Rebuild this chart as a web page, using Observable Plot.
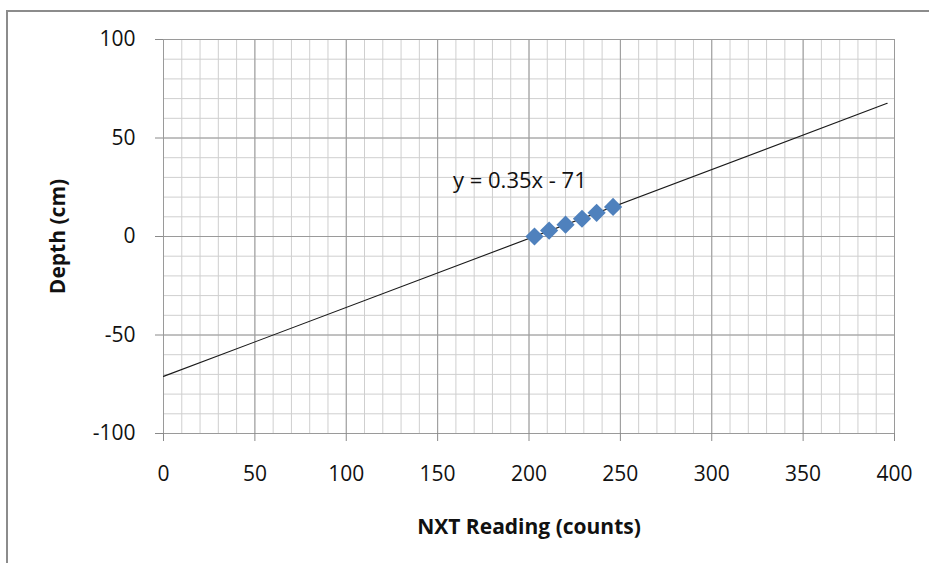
<!DOCTYPE html>
<html>
<head>
<meta charset="utf-8">
<script src="https://cdn.jsdelivr.net/npm/d3@7"></script>
<script src="https://cdn.jsdelivr.net/npm/@observablehq/plot@0.6"></script>
<style>
  html, body { margin: 0; padding: 0; background: #fff; }
  #wrap { position: relative; width: 929px; height: 563px; overflow: hidden; }
  #border { position: absolute; left: 6px; top: 10px; width: 1000px; height: 1000px;
            border-left: 2px solid #8c8c8c; border-top: 2px solid #8c8c8c; pointer-events: none; }
</style>
</head>
<body>
<div id="wrap"><div id="border"></div></div>
<script>
// Data
const readings = [203, 211, 220, 229, 237, 246];   // NXT Reading (counts)
const depths   = [0, 3, 6, 9, 12, 15];             // Depth (cm)
const trendX   = [0, 396];                         // trendline endpoints (x)
const trendY   = [-71, 67.6];                      // trendline endpoints (y)
const xTicks   = [0, 50, 100, 150, 200, 250, 300, 350, 400];
const yTicks   = [-100, -50, 0, 50, 100];
const xMinor   = d3.range(0, 401, 10);
const yMinor   = d3.range(-100, 101, 10);
const eqLabel  = ["y = 0.35x - 71"];
const eqX      = [195];
const eqY      = [28];

const points = readings.map((x, i) => ({x, y: depths[i]}));
const trend = trendX.map((x, i) => ({x, y: trendY[i]}));

const font = "'Open Sans', 'Noto Sans', sans-serif";
const fmt = d => String(d).replace("\u2212", "-");

const chart = Plot.plot({
  width: 929,
  height: 563,
  marginLeft: 163,
  marginRight: 35,
  marginTop: 39,
  marginBottom: 130,
  style: {fontFamily: font, fontSize: "21px", color: "#000", background: "transparent"},
  x: {domain: [0, 400]},
  y: {domain: [-100, 100]},
  marks: [
    Plot.ruleX(xMinor, {stroke: "#cfcfcf", strokeWidth: 1}),
    Plot.ruleY(yMinor, {stroke: "#cfcfcf", strokeWidth: 1}),
    Plot.ruleX(xTicks, {stroke: "#9a9a9a", strokeWidth: 1}),
    Plot.ruleY(yTicks, {stroke: "#9a9a9a", strokeWidth: 1}),
    Plot.axisX({ticks: xTicks, tickSize: 8, tickPadding: 25, tickFormat: fmt, stroke: "#8a8a8a", label: null, fill: "#111", fontSize: 21}),
    Plot.axisY({ticks: yTicks, tickSize: 8, tickPadding: 20, tickFormat: fmt, stroke: "#8a8a8a", label: null, fill: "#111", fontSize: 21}),
    Plot.line(trend, {x: "x", y: "y", stroke: "#1a1a1a", strokeWidth: 1.1}),
    Plot.dot(points, {x: "x", y: "y", symbol: "diamond2", r: 8.2, fill: "#4f81bd", stroke: "none"}),
    Plot.text(eqLabel, {x: eqX, y: eqY, text: d => d, fontSize: 22, fill: "#111", textAnchor: "middle"}),
    Plot.text(["NXT Reading (counts)"], {frameAnchor: "bottom", dy: 94, textAnchor: "middle", lineAnchor: "middle", text: d => d, fontSize: 21, fontWeight: "bold", fill: "#111"}),
    Plot.text(["Depth (cm)"], {frameAnchor: "left", dx: -105, rotate: -90, textAnchor: "middle", lineAnchor: "middle", text: d => d, fontSize: 21, fontWeight: "bold", fill: "#111"})
  ]
});
document.getElementById("wrap").insertBefore(chart, document.getElementById("border"));
</script>
</body>
</html>
